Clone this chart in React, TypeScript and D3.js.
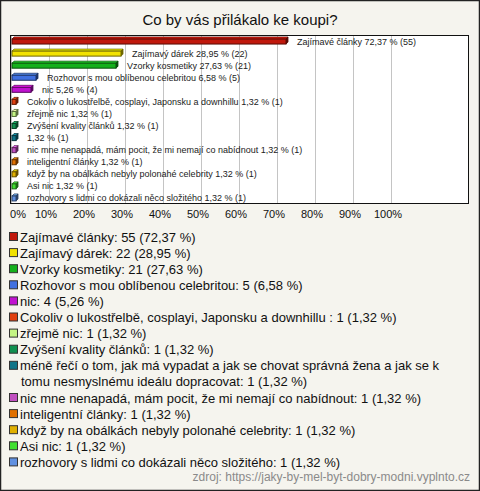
import React from "react";
import * as d3 from "d3";

const title = "Co by vás přilákalo ke koupi?";
const categories = [
  "Zajímavé články",
  "Zajímavý dárek",
  "Vzorky kosmetiky",
  "Rozhovor s mou oblíbenou celebritou",
  "nic",
  "Cokoliv o lukostřelbě, cosplayi, Japonsku a downhillu ",
  "zřejmě nic",
  "Zvýšení kvality článků",
  "méně řečí o tom, jak má vypadat a jak se chovat správná žena a jak se k tomu nesmyslnému ideálu dopracovat",
  "nic mne nenapadá, mám pocit, že mi nemají co nabídnout",
  "inteligentní články",
  "když by na obálkách nebyly polonahé celebrity",
  "Asi nic",
  "rozhovory s lidmi co dokázali něco složitého",
];
const counts = [55, 22, 21, 5, 4, 1, 1, 1, 1, 1, 1, 1, 1, 1];
const percents = [72.37, 28.95, 27.63, 6.58, 5.26, 1.32, 1.32, 1.32, 1.32, 1.32, 1.32, 1.32, 1.32, 1.32];
const colors = [
  "#c0180c", "#f2e200", "#14b01c", "#4070e0", "#c012d0", "#e04010", "#c4f484",
  "#109050", "#107488", "#c050c0", "#e07000", "#e0b000", "#40e030", "#6090e0",
];
const tickValues = [0, 10, 20, 30, 40, 50, 60, 70, 80, 90, 100];
const source = "zdroj: https://jaky-by-mel-byt-dobry-modni.vyplnto.cz";

const W = 480;
const H = 491;
const plot = { left: 10, right: 469, top: 35, bottom: 204 };
const fmt = (v: number) => d3.format(".2f")(v).replace(".", ",");

function wrap(text: string, maxChars: number): string[] {
  const words = text.split(" ");
  const lines: string[] = [];
  let cur = "";
  for (const w of words) {
    const next = cur ? cur + " " + w : w;
    if (next.length > maxChars && cur) {
      lines.push(cur);
      cur = w;
    } else cur = next;
  }
  if (cur) lines.push(cur);
  return lines;
}

export default function App() {
  const x = d3.scaleLinear().domain([0, 100]).range([11, 391]);
  const y = d3
    .scaleBand<number>()
    .domain(categories.map((_, i) => i))
    .range([plot.top, plot.bottom])
    .padding(0);

  const depth = 2;
  const bh = 5;

  // legend lines
  const legendLines: { text: string; color: string | null }[] = [];
  categories.forEach((c, i) => {
    const t = `${c}: ${counts[i]} (${fmt(percents[i])} %)`;
    const ls = wrap(t, 72);
    ls.forEach((l, j) => legendLines.push({ text: l, color: j === 0 ? colors[i] : null }));
  });
  const legendTop = 237;
  const lineH = 16.1;

  return (
    <svg width={W} height={H} style={{ position: "absolute", left: 0, top: 0 }}
      fontFamily="'Liberation Sans', Arial, sans-serif">
      <rect x={0.5} y={0.5} width={W - 1} height={H - 1} fill="#f5f4ee" stroke="#222" strokeWidth={1.5} />
      <text x={W / 2} y={25} textAnchor="middle" fontSize={15} fill="#111">{title}</text>
      <rect x={plot.left} y={plot.top} width={plot.right - plot.left} height={plot.bottom - plot.top}
        fill="#ffffff" />
      {tickValues.map((t) => (
        <line key={"g" + t} x1={x(t) + 0.5} x2={x(t) + 0.5} y1={plot.top} y2={plot.bottom}
          stroke="#c4c4c4" strokeWidth={1} />
      ))}
      <rect x={plot.left + 0.5} y={plot.top + 0.5} width={plot.right - plot.left - 1}
        height={plot.bottom - plot.top - 1} fill="none" stroke="#111" strokeWidth={1} />
      {categories.map((c, i) => {
        const cy = (y(i) as number) + y.bandwidth() / 2;
        const x0 = x(0) + 1;
        const x1 = x(percents[i]);
        const top = cy - 2;
        const col = d3.color(colors[i])!;
        const dark = col.darker(2.2).formatHex();
        const light = col.brighter(0.8).formatHex();
        const name = c.length > 90 ? "" : c + " ";
        const label = `${name}${fmt(percents[i])} % (${counts[i]})`;
        return (
          <g key={"b" + i}>
            <polygon
              points={`${x0},${top} ${x0 + depth},${top - depth} ${x1 + depth},${top - depth} ${x1},${top}`}
              fill={light} stroke={dark} strokeWidth={0.8} />
            <polygon
              points={`${x1},${top} ${x1 + depth},${top - depth} ${x1 + depth},${top + bh - depth} ${x1},${top + bh}`}
              fill={dark} stroke={dark} strokeWidth={0.8} />
            <rect x={x0} y={top} width={Math.max(1, x1 - x0)} height={bh} fill={colors[i]}
              stroke={dark} strokeWidth={1} />
            <text x={x1 + depth + 9} y={cy + 3.5} fontSize={9} fill="#222">{label}</text>
          </g>
        );
      })}
      {tickValues.map((t) => (
        <text key={"t" + t} x={t === 0 ? plot.left : x(t) - 3} y={218}
          textAnchor={t === 0 ? "start" : "middle"} fontSize={11} fill="#111">{t}%</text>
      ))}
      {legendLines.map((l, i) => {
        const cy = legendTop + i * lineH;
        return (
          <g key={"l" + i}>
            {l.color && (
              <rect x={9.5} y={cy - 4.5} width={8} height={8} fill={l.color} stroke="#333" strokeWidth={1} />
            )}
            <text x={l.color ? 20 : 21} y={cy + 4.5} fontSize={13} fill="#111">{l.text}</text>
          </g>
        );
      })}
      <text x={470} y={481} textAnchor="end" fontSize={12} fill="#8a8a8a">{source}</text>
    </svg>
  );
}
